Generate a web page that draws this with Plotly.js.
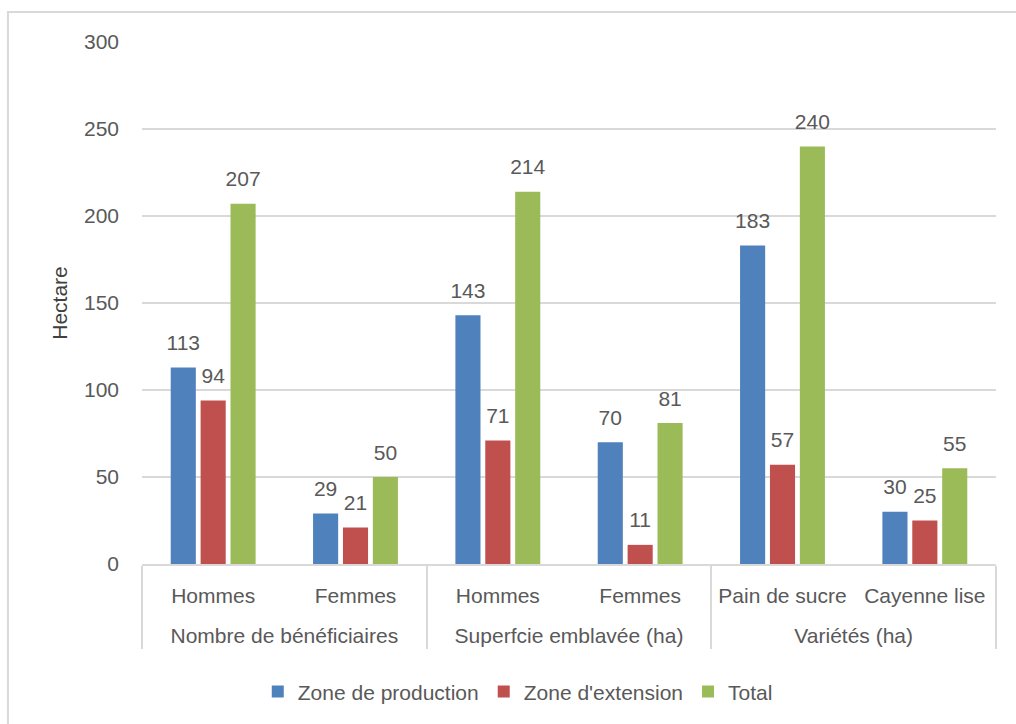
<!DOCTYPE html>
<html><head><meta charset="utf-8">
<script src="https://cdn.plot.ly/plotly-3.0.1.min.js"></script>
<style>html,body{margin:0;padding:0;background:#fff;}#chart{width:1016px;height:724px;}</style>
</head><body><div id="chart"></div>
<script>
const groups = ["Nombre de bénéficiaires","Nombre de bénéficiaires","Superfcie emblavée (ha)","Superfcie emblavée (ha)","Variétés (ha)","Variétés (ha)"];
const subcats = ["Hommes","Femmes","Hommes","Femmes","Pain de sucre","Cayenne lise"];
const seriesNames = ["Zone de production","Zone d'extension","Total"];
const zoneProduction = [113,29,143,70,183,30];
const zoneExtension = [94,21,71,11,57,25];
const total = [207,50,214,81,240,55];
const colors = ["#4F81BD","#C0504D","#9BBB59"];
const yTicks = [0,50,100,150,200,250,300];

const font = "Liberation Sans, Arial, sans-serif";
const FS = 21;
const vals = [zoneProduction, zoneExtension, total];
// a blank second line under each sub-category label spaces the two label rows
const subLabels = subcats.map(s => s + "<br> ");
const bars = vals.map((v,i)=>({
  type:"bar", name:seriesNames[i], x:[groups, subLabels], y:v,
  marker:{color:colors[i]}, hoverinfo:"y"
}));
// value labels, grouped the same way as the bars
const labels = vals.map((v,i)=>({
  type:"scatter", mode:"markers+text", showlegend:false, hoverinfo:"skip",
  x:[groups, subLabels], y:v, text:v.map(String), textposition:"top center",
  marker:{size:18, color:"rgba(0,0,0,0)"}, cliponaxis:false,
  textfont:{family:font,size:FS,color:"#595959"}
}));
const layout = {
  width:1016, height:724,
  margin:{l:142,r:20,t:42,b:160},
  paper_bgcolor:"#fff", plot_bgcolor:"#fff",
  font:{family:font,size:FS,color:"#595959"},
  barmode:"group", bargap:0.37, bargroupgap:0.16,
  scattermode:"group", scattergap:0.37,
  showlegend:true,
  legend:{orientation:"h",x:0.44,xanchor:"center",y:-0.245,yanchor:"middle",font:{family:font,size:FS,color:"#595959"}},
  xaxis:{type:"multicategory", showline:true, linecolor:"#d9d9d9", linewidth:2,
         showdividers:true, dividercolor:"#d9d9d9", dividerwidth:2,
         tickfont:{family:font,size:FS,color:"#595959"}, ticks:"", ticklabelstandoff:12},
  yaxis:{range:[0,300], tickvals:yTicks, showgrid:true, gridcolor:"#d9d9d9", gridwidth:2,
         zeroline:false, showline:false, ticks:"", ticklabelstandoff:22,
         tickfont:{family:font,size:FS,color:"#595959"},
         title:{text:"Hectare", font:{family:font,size:FS,color:"#404040"}, standoff:10}},
  shapes:[{type:"rect", xref:"paper", yref:"paper", x0:-0.157, x1:1.2, y0:-1, y1:1.0575,
           line:{color:"#d9d9d9", width:2}, fillcolor:"rgba(0,0,0,0)", layer:"below"}]
};
Plotly.newPlot("chart", bars.concat(labels), layout, {displayModeBar:false});
</script></body></html>
